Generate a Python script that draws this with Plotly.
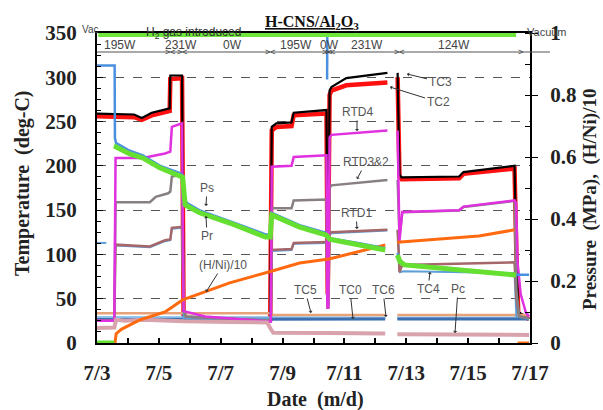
import plotly.graph_objects as go

# ---------------- data (days since 7/3 00:00) ----------------
TICK_DAYS = list(range(15))
TICK_TEXT = ["7/3", "", "7/5", "", "7/7", "", "7/9", "", "7/11", "", "7/13", "", "7/15", "", "7/17"]

# Temperatures (deg-C)
tc3_x = [0, 1.2, 1.45, 1.77, 2.35, 2.37, 2.75, 2.8, 2.9, 4.0, 5.6, 5.65, 5.8, 6.29, 6.36, 7.42, 7.46, 7.52, 7.58, 8.06, 9.39, None, 9.72, 9.78, 9.85, 11.71, 11.85, 13.5, 13.56, 13.62, 13.97]
tc3_y = [259, 258, 254, 260, 265, 302, 302, 30, 27, 27, 27, 244, 248, 249, 260, 263, 60, 285, 289, 299, 305, None, 305, 190, 187, 188, 193, 200, 100, 35, 27]

tc2_x = [0, 1.2, 1.45, 1.77, 2.35, 2.37, 2.75, 2.8, 5.6, 5.65, 5.8, 6.29, 6.36, 7.42, 7.46, 7.52, 7.58, 8.06, 9.39, None, 9.72, 9.78, 9.85, 11.71, 11.85, 13.5, 13.56, 13.62, 13.97]
tc2_y = [256, 255, 252, 257, 262, 298, 299, 27, 27, 240, 244, 245, 257, 259, 55, 280, 285, 291, 294, None, 300, 188, 185, 186, 191, 197, 100, 33, 27]

rtd4_x = [0, 0.56, 0.6, 1.48, 2.2, 2.37, 2.42, 2.75, 2.8, 3.5, 5.62, 5.65, 6.29, 6.36, 7.42, 7.45, 7.48, 7.52, 7.58, 9.39, None, 9.72, 9.78, 9.87, 11.71, 11.85, 13.5, 13.55, 13.6, 13.7, 13.87, 13.97]
rtd4_y = [25, 25, 209, 209, 214, 216, 244, 248, 36, 30, 24, 199, 200, 210, 212, 40, 40, 232, 235, 240, None, 240, 115, 148, 150, 154, 161, 158, 90, 55, 34, 30]

rtd32_x = [0, 0.56, 0.6, 1.71, 1.9, 2.3, 2.37, 2.42, 2.75, 2.8, 2.87, 5.62, 5.65, 6.29, 6.36, 7.42, 7.45, 7.48, 7.52, 7.58, 9.39, None, 9.72, 9.78, 9.87, 11.71, 11.85, 13.5, 13.56, 13.65, 13.97]
rtd32_y = [25, 25, 159, 159, 165, 169, 171, 188, 190, 40, 30, 25, 152, 152, 161, 162, 45, 45, 175, 178, 184, None, 184, 120, 147.5, 149.5, 153.5, 160.5, 60, 30, 28]

rtd1_x = [0, 0.56, 0.6, 1.71, 2.2, 2.37, 2.42, 2.75, 2.8, 2.87, 5.62, 5.65, 6.29, 6.36, 7.42, 7.45, 7.48, 7.52, 7.58, 9.39, None, 9.72, 9.78, 9.87, 13.5, 13.56, 13.65, 13.97]
rtd1_y = [25, 25, 111, 109, 116, 117, 130, 131, 38, 30, 25, 105, 106, 113, 114, 40, 40, 123, 125, 128, None, 128, 80, 88, 91, 50, 30, 28]

tc4_x = [0, 0.3, None, 0.6, 1.71, 2.2, 2.37, 2.42, 2.75, 2.8, 5.62, 5.65, 6.29, 6.36, 7.42, 7.5, 7.58, 9.39, None, 9.72, 9.8, 9.9, 13.5, 13.56, 13.97]
tc4_y = [113, 113, None, 110, 108, 115, 116, 129, 130, 28, 27, 104, 105, 112, 113, 122, 124, 127, None, 127, 80, 81, 79, 30, 27]

tc5_x = [0, 5.6, 5.7, 9.32, None, 9.71, 13.97]
tc5_y = [33.5, 33.5, 31.5, 31.5, None, 31.5, 31.5]
tc0_x = [0, 9.32, None, 9.71, 13.97]
tc0_y = [26.5, 27, None, 27, 27]
tc6_x = [0, 9.32, None, 9.71, 13.97]
tc6_y = [29, 28.5, None, 28.5, 28.5]

# Pressures (MPa) and (H/Ni)/10
ps_x = [0, 0.57, 0.58, 0.62, 1.06, 1.48, 2.03, 2.68, 2.77, 2.82, 2.9, 3.32, 4.29, 5.45, 5.6, 5.65, 6.55, 7.42, None, 7.44, 7.45, None, 7.47, 7.52, 8.48, 9.32, None, 9.71, 9.8, 9.94, 10.74, 12.35, 13.55, 13.97]
ps_y = [0.895, 0.895, 0.66, 0.645, 0.62, 0.605, 0.572, 0.548, 0.54, 0.47, 0.452, 0.428, 0.393, 0.35, 0.35, 0.42, 0.38, 0.355, None, 0.85, 1.1, None, 0.34, 0.338, 0.322, 0.306, None, 0.29, 0.268, 0.255, 0.248, 0.232, 0.22, 0.22]

pr_x = [0, 0.56, None, 0.6, 0.62, 1.06, 1.48, 2.03, 2.68, 2.77, 2.85, 3.32, 4.29, 5.45, 5.6, 5.65, 6.55, 7.42, 7.52, 8.48, 9.32, None, 9.71, 9.8, 9.94, 10.74, 12.35, 13.55]
pr_y = [0, 0, None, 0.625, 0.632, 0.61, 0.597, 0.565, 0.54, 0.535, 0.445, 0.42, 0.387, 0.342, 0.342, 0.413, 0.374, 0.348, 0.335, 0.316, 0.30, None, 0.284, 0.262, 0.252, 0.245, 0.229, 0.219]

pc_x = [0, 0.56, 0.62, 0.9, 1.5, 2.8, 4.3, 5.5, 5.62, 5.7, 7.5, 9.32, None, 9.71, 11.7, 13.97]
pc_y = [0.048, 0.05, 0.075, 0.072, 0.075, 0.07, 0.068, 0.066, 0.045, 0.033, 0.032, 0.031, None, 0.028, 0.027, 0.026]

hni_x = [0, 0.58, 0.62, 0.8, 1.4, 2.2, 2.77, 3.32, 4.29, 5.58, 6.55, 7.5, 8.5, 9.32, None, 9.71, 10.7, 12.35, 13.5, None, 13.6, 13.97]
hni_y = [0, 0, 0.03, 0.045, 0.075, 0.10, 0.139, 0.158, 0.194, 0.23, 0.258, 0.271, 0.295, 0.316, None, 0.325, 0.333, 0.345, 0.365, None, 0.0, 0.0]

# power schedule labels
POWER_TEXT = ["195W", "231W", "0W", "195W", "0W", "231W", "124W", "0W"]
POWER_DAY = [0.74, 2.71, 4.39, 6.42, 7.52, 8.74, 11.55, 14.26]
POWER_BOUNDS = [2.37, 2.77, 5.6, 7.45, 7.55, 9.77]
POWER_END = 13.68

# ---------------- figure ----------------
fig = go.Figure()

def add(x, y, color, width, axis="y"):
    fig.add_trace(go.Scatter(x=x, y=y, mode="lines", yaxis=axis, showlegend=False,
                             line=dict(color=color, width=width), hoverinfo="skip"))

add(tc2_x, tc2_y, "#FF1010", 4.5)
add(tc3_x, tc3_y, "#000000", 2.2)
add(tc6_x, tc6_y, "#8EC3EE", 2.5)
add(tc0_x, tc0_y, "#3B6FB0", 3)
add(tc5_x, tc5_y, "#E8A27A", 2.5)
add(tc4_x, tc4_y, "#5E9FD8", 2)
add(rtd1_x, rtd1_y, "#A5676A", 2.5)
add(rtd32_x, rtd32_y, "#888080", 2.5)
add(rtd4_x, rtd4_y, "#E030E0", 2.5)
add(pc_x, pc_y, "#D9A3AE", 4, "y2")
add(hni_x, hni_y, "#FF6A10", 3, "y2")
add(ps_x, ps_y, "#4A90E0", 2.5, "y2")
add(pr_x, pr_y, "#66E030", 5, "y2")

SERIF = "Liberation Serif"
SANS = "Liberation Sans"
tickfont = dict(family=SERIF, size=21, color="#222", weight="bold")

# plot area: x 97..530 px, y 33..343 px
fig.update_layout(
    width=603, height=410, margin=dict(l=97, r=73, t=33, b=67),
    paper_bgcolor="white", plot_bgcolor="white",
    xaxis=dict(range=[0, 14], tickvals=TICK_DAYS, ticktext=TICK_TEXT, ticks="inside",
               ticklen=5, tickwidth=1.5, tickcolor="black", showline=True, linecolor="black",
               linewidth=2, mirror=True, showgrid=False, zeroline=False, tickfont=tickfont,
               ticklabelstandoff=10),
    yaxis=dict(range=[0, 350], dtick=50, ticks="inside", ticklen=6, tickcolor="black",
               minor=dict(dtick=12.5, ticks="inside", ticklen=4, tickcolor="black"),
               showline=True, linecolor="black", linewidth=2, showgrid=True,
               gridcolor="#555", griddash="dash", gridwidth=1, zeroline=False,
               tickfont=tickfont, ticklabelstandoff=14),
    yaxis2=dict(overlaying="y", side="right", range=[0, 1], dtick=0.2, ticks="outside",
                ticklen=6, tickcolor="black",
                minor=dict(dtick=0.1, ticks="inside", ticklen=5, tickcolor="black"),
                showline=True, linecolor="black", linewidth=2, showgrid=False,
                zeroline=False, tickfont=tickfont, ticklabelstandoff=8),
)

def px2paper(px, py):
    return (px - 97) / 433.0, (343 - py) / 310.0

shapes = []
# green H2 bar
shapes.append(dict(type="rect", xref="paper", yref="paper", x0=0.003, x1=0.968,
                   y0=0.987, y1=1.0, fillcolor="#6EE63C", line=dict(width=0)))
# power arrow line
yl = px2paper(0, 52)[1]
shapes.append(dict(type="line", xref="paper", yref="paper", x0=0, x1=1.046, y0=yl, y1=yl,
                   line=dict(color="#555", width=1.2)))
fig.update_layout(shapes=shapes)

ann = []
C = dict(xanchor="center", yanchor="middle")
for t, d in zip(POWER_TEXT, POWER_DAY):
    ann.append(dict(x=d, y=px2paper(0, 45)[1], xref="x", yref="paper", text=t,
                    showarrow=False, font=dict(family=SANS, size=12, color="#444"), **C))
for b in POWER_BOUNDS:
    ann.append(dict(x=b, y=yl, xref="x", yref="paper", text="&gt;&lt;", showarrow=False,
                    font=dict(family=SANS, size=9, color="#444"), **C))
ann.append(dict(x=POWER_END, y=yl, xref="x", yref="paper", text="&gt;", showarrow=False,
                font=dict(family=SANS, size=9, color="#444"), **C))

def ptext(px, py, text, font, **kw):
    x, y = px2paper(px, py)
    d = dict(x=x, y=y, xref="paper", yref="paper", text=text, showarrow=False, font=font, **C)
    d.update(kw)
    ann.append(d)

ptext(312, 22, "<u>H-CNS/Al<sub>2</sub>O<sub>3</sub></u>", dict(family=SERIF, size=16, color="#111", weight="bold"))
ptext(193, 33, "H<sub>2</sub> gas introduced", dict(family=SANS, size=12, color="#333"))
ptext(90, 30, "Vac", dict(family=SANS, size=10, color="#444"))
ptext(547, 32, "Vacuum", dict(family=SANS, size=11, color="#444"))
ptext(22, 183, "Temperature  (deg-C)", dict(family=SERIF, size=20, color="#222", weight="bold"), textangle=-90)
ptext(590, 200, "Pressure  (MPa),  (H/Ni)/10", dict(family=SERIF, size=19, color="#222", weight="bold"), textangle=-90)
ptext(315, 399, "Date  (m/d)", dict(family=SERIF, size=20, color="#222", weight="bold"))

# series labels with leaders: (text, head_px, head_py, text_px, text_py)
LABELS = [
    ("TC3", 407, 74, 440, 82),
    ("TC2", 390, 87, 438, 102),
    ("RTD4", 357, 131, 357, 112),
    ("RTD3&amp;2", 357, 179, 366, 162),
    ("RTD1", 357, 229, 356, 213),
    ("Ps", 206, 206, 207, 188),
    ("Pr", 206, 216, 207, 236),
    ("(H/Ni)/10", 206, 292, 223, 265),
    ("TC5", 311, 313, 305, 290),
    ("TC0", 353, 319, 350, 290),
    ("TC6", 386, 317, 383, 290),
    ("TC4", 430, 272, 428, 289),
    ("Pc", 455, 333, 458, 289),
]
for t, hx, hy, tx, ty in LABELS:
    x, y = px2paper(hx, hy)
    ann.append(dict(x=x, y=y, xref="paper", yref="paper", text=t, showarrow=True,
                    ax=tx - hx, ay=ty - hy, arrowhead=1, arrowsize=0.7, arrowwidth=1,
                    arrowcolor="#333", standoff=0,
                    font=dict(family=SANS, size=12, color="#555")))

fig.update_layout(annotations=ann)
fig.write_html("out.html")
